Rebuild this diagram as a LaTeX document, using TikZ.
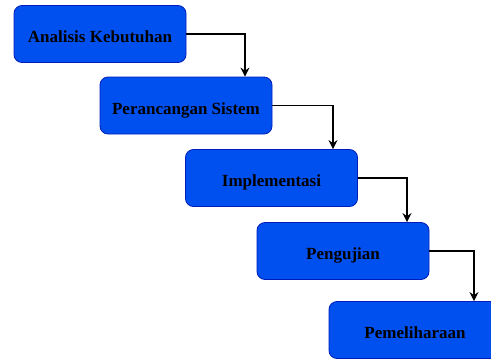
\documentclass[tikz,border=0pt]{standalone}
\usepackage{fontspec}
\setmainfont{Liberation Serif}
\usetikzlibrary{arrows.meta}
\definecolor{boxfill}{HTML}{0050EF}
\definecolor{boxline}{HTML}{001DBC}
\tikzset{
  stage/.style={draw=boxline, line width=0.8pt, fill=boxfill, rounded corners=8pt,
    minimum width=172pt, minimum height=57pt, inner sep=0pt,
    text height=17.4pt, text depth=0pt,
    font=\fontsize{17}{20}\selectfont\bfseries, text=black},
  flow/.style={draw=black, line width=1.1pt, -{Stealth[length=9pt,width=9pt,inset=3pt]}}
}
\begin{document}
\begin{tikzpicture}[x=1pt,y=-1pt]
\useasboundingbox (0,0) rectangle (491,362);
\clip (0,0) rectangle (491,362);
\node[stage] (a) at (100,34) {Analisis Kebutuhan};
\node[stage] (b) at (186,105.5) {Perancangan Sistem};
\node[stage] (c) at (271.5,178) {Implementasi};
\node[stage] (d) at (343,251) {Pengujian};
\node[stage] (e) at (415,330) {Pemeliharaan};
\draw[flow] (a.east) -| ([xshift=59pt]b.north);
\draw[flow] (b.east) -| ([xshift=61.5pt]c.north);
\draw[flow] (c.east) -| ([xshift=64pt]d.north);
\draw[flow] (d.east) -| ([xshift=59pt]e.north);
\end{tikzpicture}
\end{document}
